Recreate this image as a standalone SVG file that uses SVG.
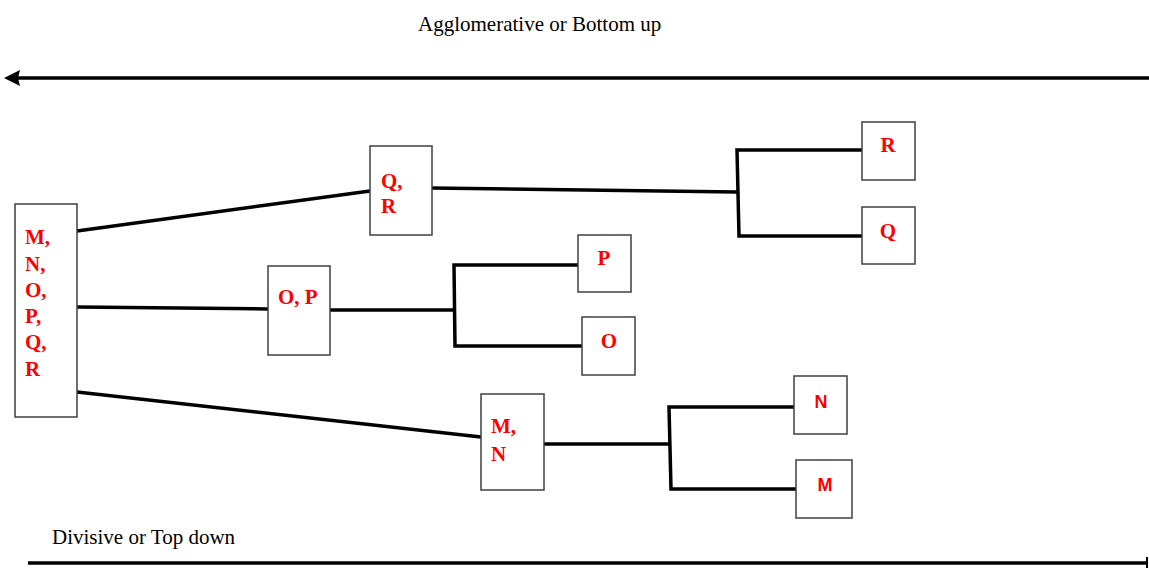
<svg xmlns="http://www.w3.org/2000/svg" width="1149" height="568" viewBox="0 0 1149 568">
<style>
.box{fill:#fff;stroke:#404040;stroke-width:1.5}
.lbl{font-family:"Liberation Serif",serif;font-weight:bold;font-size:21px;fill:#ff0000}
.lbls{font-family:"Liberation Sans",sans-serif;font-weight:bold;font-size:18px;fill:#ff0000}
.cap{font-family:"Liberation Serif",serif;font-size:21px;fill:#000}
.ln{stroke:#000;stroke-width:3.5;fill:none}
</style>
<rect width="1149" height="568" fill="#fff"/>
<text class="cap" x="418" y="31">Agglomerative or Bottom up</text>
<text class="cap" x="52" y="544">Divisive or Top down</text>
<g id="connectors">
<line class="ln" x1="1149" y1="78" x2="16" y2="78"/>
<polygon points="4,78 20,70 18,78 20,86" fill="#000"/>
<line class="ln" x1="28" y1="563" x2="1146" y2="563"/>
<line stroke="#000" stroke-width="2" x1="1147" y1="557" x2="1147" y2="568"/>
<line class="ln" x1="77" y1="231" x2="370" y2="191"/>
<line class="ln" x1="77" y1="307" x2="268" y2="309"/>
<line class="ln" x1="77" y1="392" x2="481" y2="437"/>
<line class="ln" x1="432" y1="188" x2="737" y2="192"/>
<polyline class="ln" points="862,150 737,150 739,236 862,236"/>
<line class="ln" x1="330" y1="310" x2="454" y2="310"/>
<polyline class="ln" points="578,265 454,265 455,346 582,346"/>
<line class="ln" x1="544" y1="444" x2="669" y2="444"/>
<polyline class="ln" points="794,407 669,407 671,489 796,489"/>
</g>
<g id="node-MNOPQR">
<rect class="box" x="15" y="204" width="62" height="213"/>
<text class="lbl" x="25" y="244">M,</text>
<text class="lbl" x="25" y="271">N,</text>
<text class="lbl" x="25" y="297">O,</text>
<text class="lbl" x="25" y="323">P,</text>
<text class="lbl" x="25" y="349">Q,</text>
<text class="lbl" x="25" y="376">R</text>
</g>
<g id="node-QR">
<rect class="box" x="370" y="146" width="62" height="89"/>
<text class="lbl" x="381" y="188">Q,</text>
<text class="lbl" x="381" y="213">R</text>
</g>
<g id="node-OP">
<rect class="box" x="268" y="266" width="62" height="89"/>
<text class="lbl" x="278" y="304">O, P</text>
</g>
<g id="node-MN">
<rect class="box" x="481" y="394" width="63" height="96"/>
<text class="lbl" x="491" y="433">M,</text>
<text class="lbl" x="491" y="461">N</text>
</g>
<g id="node-P">
<rect class="box" x="578" y="235" width="53" height="57"/>
<text class="lbl" x="604" y="265" text-anchor="middle">P</text>
</g>
<g id="node-O">
<rect class="box" x="582" y="317" width="53" height="58"/>
<text class="lbl" x="609" y="348" text-anchor="middle">O</text>
</g>
<g id="node-R">
<rect class="box" x="862" y="122" width="53" height="58"/>
<text class="lbl" x="888" y="152" text-anchor="middle">R</text>
</g>
<g id="node-Q">
<rect class="box" x="862" y="207" width="53" height="57"/>
<text class="lbl" x="888" y="238" text-anchor="middle">Q</text>
</g>
<g id="node-N">
<rect class="box" x="794" y="376" width="53" height="58"/>
<text class="lbls" x="821" y="408" text-anchor="middle">N</text>
</g>
<g id="node-M">
<rect class="box" x="796" y="460" width="56" height="58"/>
<text class="lbls" x="825" y="491" text-anchor="middle">M</text>
</g>
</svg>
